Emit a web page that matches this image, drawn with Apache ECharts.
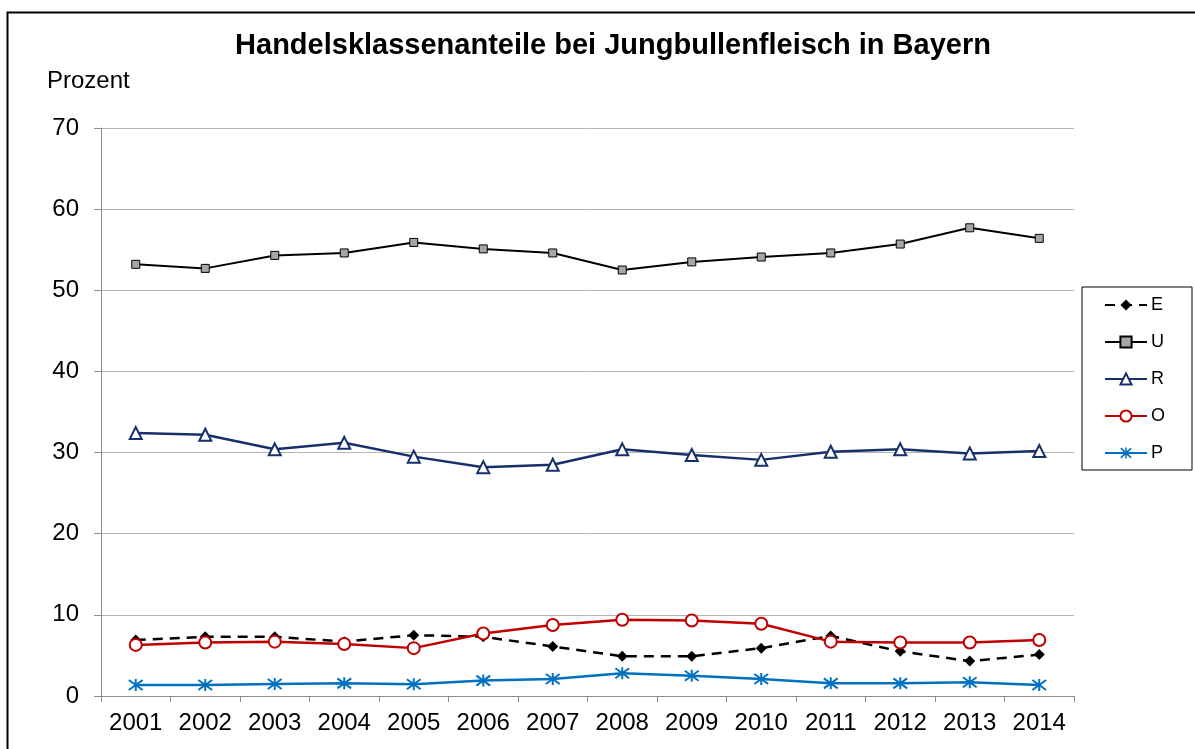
<!DOCTYPE html>
<html>
<head>
<meta charset="utf-8">
<script src="https://cdn.jsdelivr.net/npm/echarts@6/dist/echarts.min.js"></script>
<style>
  html, body { margin: 0; padding: 0; background: #fff; }
  #chart { width: 1195px; height: 749px; }
</style>
</head>
<body>
<div id="chart"></div>
<script>
  // Handelsklassenanteile, Prozent
  var years = ['2001', '2002', '2003', '2004', '2005', '2006', '2007', '2008', '2009', '2010', '2011', '2012', '2013', '2014']
  var klasseE = [6.9, 7.3, 7.3, 6.7, 7.5, 7.3, 6.1, 4.9, 4.9, 5.9, 7.4, 5.5, 4.3, 5.1]
  var klasseU = [53.2, 52.7, 54.3, 54.6, 55.9, 55.1, 54.6, 52.5, 53.5, 54.1, 54.6, 55.7, 57.7, 56.4]
  var klasseR = [32.4, 32.2, 30.4, 31.2, 29.5, 28.2, 28.5, 30.4, 29.7, 29.1, 30.1, 30.4, 29.9, 30.2]
  var klasseO = [6.3, 6.6, 6.7, 6.4, 5.9, 7.7, 8.75, 9.4, 9.3, 8.9, 6.7, 6.6, 6.6, 6.9]
  var klasseP = [1.36, 1.36, 1.48, 1.56, 1.44, 1.9, 2.1, 2.8, 2.5, 2.1, 1.56, 1.56, 1.7, 1.36]

  var asterisk = 'path://M-1,-6L1,-6L1,6L-1,6Z' +
    'M-6.4,-5.8L7.6,4.2L6.4,5.8L-7.6,-4.2Z' +
    'M6.4,-5.8L7.6,-4.2L-6.4,5.8L-7.6,4.2Z'

  var font = 'Liberation Sans, Arial, sans-serif'

  var chart = echarts.init(document.getElementById('chart'))
  chart.setOption({
    animation: false,
    textStyle: { fontFamily: font },
    title: {
      text: 'Handelsklassenanteile bei Jungbullenfleisch in Bayern',
      left: 608,
      textAlign: 'center',
      top: 26,
      textStyle: { fontFamily: font, fontSize: 29, fontWeight: 'bold', color: '#000' }
    },
    graphic: [
      {
        type: 'rect',
        shape: { x: 7.5, y: 12.5, width: 1300, height: 900 },
        style: { fill: 'none', stroke: '#000', lineWidth: 2 },
        silent: true
      },
      {
        type: 'text',
        left: 47,
        top: 69,
        style: { text: 'Prozent', fontFamily: font, fontSize: 24, fill: '#000' }
      }
    ],
    legend: {
      orient: 'vertical',
      left: 1082,
      top: 287,
      padding: [9, 27, 8, 22],
      itemWidth: 42,
      itemHeight: 14,
      itemGap: 19,
      borderColor: '#000',
      borderWidth: 1,
      textStyle: { fontFamily: font, fontSize: 18, lineHeight: 18, color: '#000', padding: [0, 0, 0, -1] },
      data: ['E', 'U', 'R', 'O', 'P']
    },
    grid: { left: 101, right: 121, top: 128, bottom: 53 },
    xAxis: {
      type: 'category',
      data: years,
      boundaryGap: true,
      axisLine: { lineStyle: { color: '#8c8c8c', width: 1 } },
      axisTick: { show: true, length: 6, lineStyle: { color: '#8c8c8c' } },
      axisLabel: { color: '#000', fontSize: 24, margin: 15, fontFamily: font },
      splitLine: { show: false }
    },
    yAxis: {
      type: 'value',
      min: 0,
      max: 70,
      interval: 10,
      axisLine: { show: true, lineStyle: { color: '#8c8c8c', width: 1 } },
      axisTick: { show: true, length: 7, lineStyle: { color: '#8c8c8c' } },
      axisLabel: { color: '#000', fontSize: 24, margin: 22, fontFamily: font },
      splitLine: { show: true, lineStyle: { color: '#b4b4b4', width: 1 } }
    },
    series: [
      {
        name: 'E',
        type: 'line',
        data: klasseE,
        symbol: 'diamond',
        symbolSize: 11,
        itemStyle: { color: '#000' },
        lineStyle: { color: '#000', width: 2.5, type: [10, 7] }
      },
      {
        name: 'U',
        type: 'line',
        data: klasseU,
        symbol: 'rect',
        symbolSize: 8,
        itemStyle: { color: '#a6a6a6', borderColor: '#000', borderWidth: 1 },
        lineStyle: { color: '#000', width: 2 }
      },
      {
        name: 'R',
        type: 'line',
        data: klasseR,
        symbol: 'triangle',
        symbolSize: 12,
        itemStyle: { color: '#fff', borderColor: '#17306b', borderWidth: 2 },
        lineStyle: { color: '#17306b', width: 2.5 }
      },
      {
        name: 'O',
        type: 'line',
        data: klasseO,
        symbol: 'circle',
        symbolSize: 12,
        itemStyle: { color: '#fff', borderColor: '#c00000', borderWidth: 2 },
        lineStyle: { color: '#c00000', width: 2.5 }
      },
      {
        name: 'P',
        type: 'line',
        data: klasseP,
        symbol: asterisk,
        symbolSize: [15, 12],
        symbolKeepAspect: false,
        itemStyle: { color: '#0070c0' },
        lineStyle: { color: '#0070c0', width: 2.5 }
      }
    ]
  })
</script>
</body>
</html>
